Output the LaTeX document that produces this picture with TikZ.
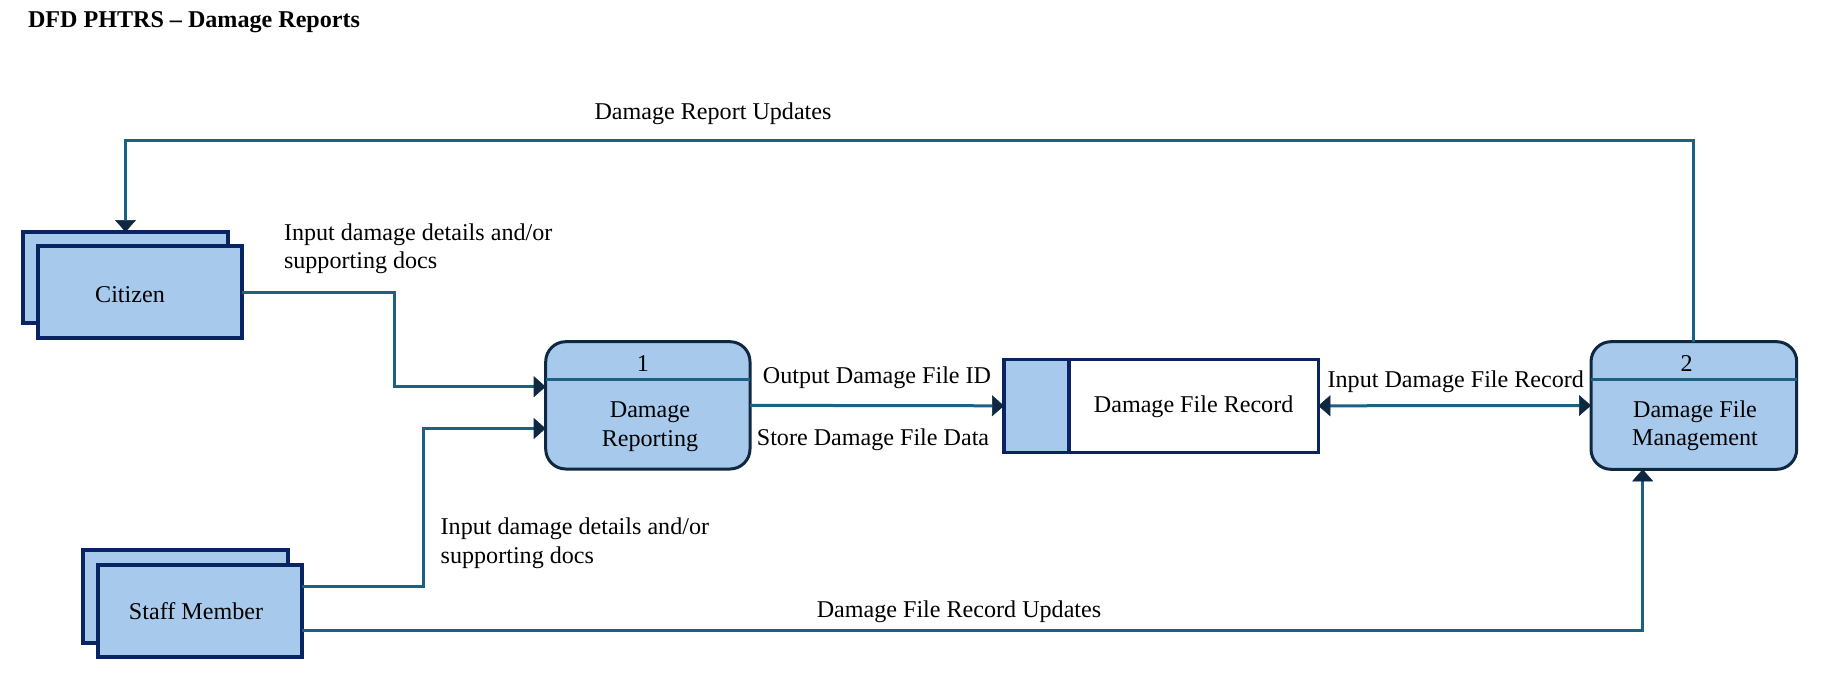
\documentclass[tikz,border=0pt]{standalone}
\usepackage{fontspec}
\setmainfont{Liberation Serif}
\usetikzlibrary{arrows.meta}
\definecolor{fillc}{HTML}{A7CAEC}
\definecolor{linec}{HTML}{1A6183}
\definecolor{procb}{HTML}{0E2841}
\definecolor{entb}{HTML}{0A2463}
\definecolor{tipc}{HTML}{0E2841}
\begin{document}
\begin{tikzpicture}[x=1pt,y=-1pt,
  font=\fontsize{24.1}{28.5}\selectfont,
  every node/.style={outer sep=0pt},
  entity/.style={draw=entb, fill=fillc, line width=3.2pt, rectangle, inner sep=0pt},
  proc/.style={draw=procb, fill=fillc, line width=3pt, rounded corners=20pt, inner sep=0pt},
  divider/.style={draw=linec, line width=3pt},
  store/.style={draw=entb, fill=white, line width=3.2pt, inner sep=0pt,
    path picture={\fill[fillc] (path picture bounding box.north west) rectangle ([xshift=65pt]path picture bounding box.south west);}},
  flow/.style={draw=linec, line width=3pt, -{Triangle[length=12pt,width=21pt,color=tipc,line width=0.6pt]}},
  biflow/.style={draw=linec, line width=3pt, {Triangle[length=12pt,width=21pt,color=tipc,line width=0.6pt]}-{Triangle[length=12pt,width=21pt,color=tipc,line width=0.6pt]}},
  lbl/.style={inner sep=0pt, text=black}]
\useasboundingbox (0,0) rectangle (1825,690);

% title
\node[lbl, anchor=base west, font=\fontsize{24.1}{28.5}\selectfont\bfseries] (title) at (28,28) {DFD PHTRS – Damage Reports};

% Citizen entity
\node[entity, minimum width=205pt, minimum height=91pt] (citb) at (125.5,277.5) {};
\node[entity, minimum width=204pt, minimum height=92pt] (cit) at (140,292) {};
\node[lbl] (citt) at (130,294.5) {Citizen};

% Staff entity
\node[entity, minimum width=205pt, minimum height=93pt] (stfb) at (185.5,596.5) {};
\node[entity, minimum width=204pt, minimum height=92pt] (stf) at (200,611) {};
\node[lbl] (stft) at (196,611.5) {Staff Member};

% Process 1
\node[proc, minimum width=204.3pt, minimum height=127.3pt] (p1) at (647.85,405.35) {};
\draw[divider] ([yshift=-37.6pt]p1.north west) -- ([yshift=-37.6pt]p1.north east);
\node[lbl] (p1n) at (643,363.5) {1};
\node[lbl, align=center] (p1t) at (650,426.5) {Damage\\Reporting};

% Process 2
\node[proc, minimum width=205.7pt, minimum height=127.6pt] (p2) at (1693.85,405.5) {};
\draw[divider] ([yshift=-37.6pt]p2.north west) -- ([yshift=-37.6pt]p2.north east);
\node[lbl] (p2n) at (1686.7,363.5) {2};
\node[lbl, align=center] (p2t) at (1695,425.5) {Damage File\\Management};

% Data store
\node[store, minimum width=314.3pt, minimum height=93pt] (ds) at (1161.15,405.8) {};
\draw[draw=entb, line width=3.2pt] ([xshift=65pt]ds.north west) -- ([xshift=65pt]ds.south west);
\node[lbl] (dst) at (1193.6,407) {Damage File Record};

% connectors
\coordinate (c1) at (394,386.7);
\draw[flow] (cit.east) -| (c1) -- (c1 -| p1.west);
\coordinate (s1) at (423.3,428.5);
\draw[flow] ([yshift=24.3pt]stf.east) -| (s1) -- (s1 -| p1.west);
\draw[flow] (p1.east) -- (ds.west);
\draw[biflow] (ds.east) -- (p2.west);
\coordinate (tc) at (0,141);
\draw[flow] (p2.north) -- (p2.north |- tc) -| (citb.north);
\draw[flow] ([yshift=-19.7pt]stf.east) -| ([xshift=-51.2pt]p2.south);

% labels
\node[lbl] (l1) at (713,114) {Damage Report Updates};
\node[lbl, anchor=west, align=left] (l2) at (284,248.5) {Input damage details and/or\\supporting docs};
\node[lbl] (l3) at (877,378) {Output Damage File ID};
\node[lbl] (l4) at (873,440) {Store Damage File Data};
\node[lbl] (l5) at (1455.8,381.5) {Input Damage File Record};
\node[lbl, anchor=west, align=left] (l6) at (440.7,543) {Input damage details and/or\\supporting docs};
\node[lbl] (l7) at (959,612) {Damage File Record Updates};
\end{tikzpicture}
\end{document}
